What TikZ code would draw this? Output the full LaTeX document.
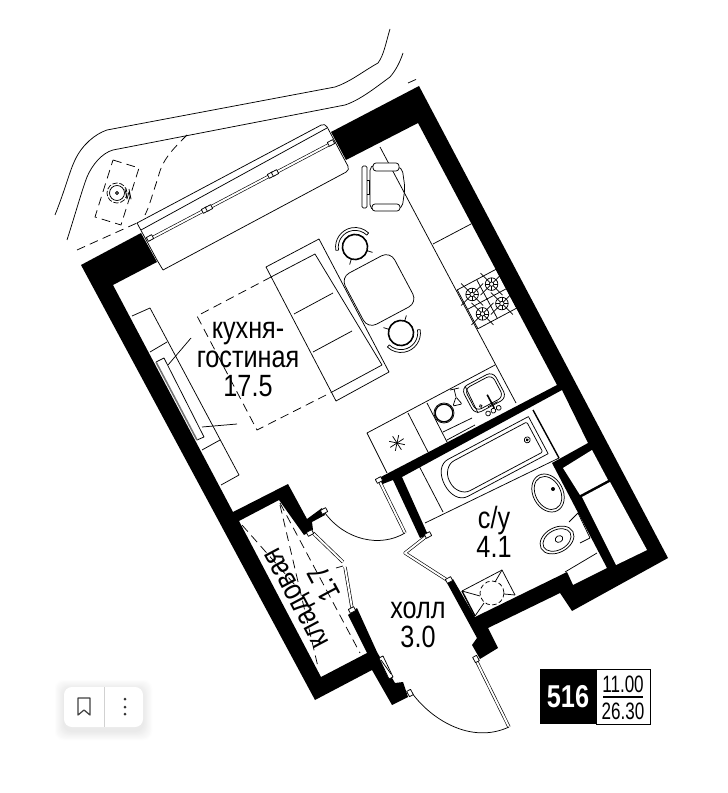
\documentclass[tikz,border=0pt]{standalone}
\usepackage{fontspec}
\setmainfont{Liberation Sans}
\newfontfamily\planfont[FakeStretch=0.82]{Liberation Sans}
\newfontfamily\badgefont[FakeStretch=0.72]{Liberation Sans}
\newfontfamily\flatfont[FakeStretch=0.8]{Liberation Sans}
\usetikzlibrary{positioning}
\tikzset{
  wall/.style={fill=black,draw=none},
  hole/.style={fill=white,draw=none},
  thin line/.style={line width=.42pt,line join=round},
  dash line/.style={line width=.42pt,dash pattern=on 5pt off 3pt},
  leaf/.style={line width=.36pt,double,double distance=1.1pt,line join=round},
  room/.style={font=\planfont\fontsize{17.5}{16.7}\selectfont,align=center,inner sep=0pt},
  jamb/.pic={\draw[thin line,fill=white] (-3,-2.2) rectangle (3,2.2);},
  stool/.pic={
    \draw[thin line] (0,0) circle[radius=13];
    \draw[line width=.7pt] (0,0) circle[radius=12.4];
    \draw[thin line] (-18.5,-6) arc[start angle=-162,end angle=-18,radius=19.5];
    \draw[thin line] (-16,-5) arc[start angle=-162,end angle=-18,radius=16.8];
    \draw[thin line] (-18.5,-6) -- (-16,-5) (18.5,-6) -- (16,-5);
    \draw[thin line] (-9,9) -- (-13,13) (9,9) -- (13,13);
  },
  burner/.pic={
    \draw[thin line] (-11,-11) -- (11,11) (-11,11) -- (11,-11);
    \draw[thin line,fill=white] (0,0) circle[radius=6.3];
    \draw[thin line] (0,0) circle[radius=2.2];
    \foreach \a in {0,45,...,315} {\draw[thin line] (\a:2.2) -- (\a:6.3);}
  }
}
\begin{document}
\begin{tikzpicture}[x=0.02cm,y=-0.02cm]
    \useasboundingbox (0,0) rectangle (727,793);
    \fill[white] (0,0) rectangle (727,793);

    \draw [thin line] (55,215) .. controls (65,190) and (70,170) .. (75,160) .. controls (82,145) and (95,134) .. (107,130) -- (335,87) .. controls (350,82) and (362,72) .. (378,63) .. controls (384,55) and (386,42) .. (390,29);
    \draw [thin line] (67,240) .. controls (75,215) and (82,190) .. (87,177) .. controls (92,165) and (102,153) .. (113,150) -- (345,105) .. controls (360,100) and (375,88) .. (390,77) .. controls (396,70) and (400,62) .. (403,53);
    \draw [dash line] (77,250) -- (137,223);
    \draw [dash line] (187,135) .. controls (172,150) and (162,160) .. (158,178) .. controls (152,195) and (150,205) .. (145,215);
    \draw [dash line] (408,83) -- (417,79);
    \draw [dash line] (113,160) -- (139,168) -- (121,225) -- (95,217) -- cycle;
    \draw [thin line] (117,193) circle[radius=1.5];
    \draw [thin line,dash pattern=on 3pt off 1pt] (117,193) circle[radius=10];
    \draw [thin line] (117,193) circle[radius=7.5];
    \draw [thin line] (125,189) -- (127,199) -- (129,192) -- (131,199) -- (129,189);

    \draw [thin line] (163,270) [rounded corners=2.5pt] -- (350,170) -- (325,123) [sharp corners] -- (137,223) -- (157,260) [rounded corners=2.5pt] -- (163,270);
    \draw [thin line] (141,230) -- (327,128);
    \draw [leaf] (148,240) -- (332,143);
    \pic [rotate=28] at (150,238) {jamb};
    \pic [rotate=28] at (205,210) {jamb};
    \pic [rotate=28] at (209,208) {jamb};
    \pic [rotate=28] at (271,175) {jamb};
    \pic [rotate=28] at (275,173) {jamb};
    \pic [rotate=28] at (331,143) {jamb};

    \draw [thin line] (380,147) -- (516,403);
    \draw [thin line] (433,244) -- (471,224);
    \draw [thin line] (495,365) -- (367,433) -- (387,473);
    \draw [thin line] (408,413) -- (428,452);
    \draw [thin line] (427,403) -- (447,442);
    \draw [thin line] (465,386) -- (478,413);
    \draw [thin line] (443,432) -- (472,418) (447,440) -- (475,425);
    \foreach \a in {0,45,...,315} {\draw [thin line] (397,443) -- ++(\a+12:8);}

    \begin{scope}[shift={(487,299)},rotate=28]
        \draw [thin line] (-22,-22) rectangle (22,22);
        \draw [thin line] (-22,0) -- (22,0) (0,-22) -- (0,22);
        \pic at (-11,-11) {burner};
        \pic at (11,-11) {burner};
        \pic at (-11,11) {burner};
        \pic at (11,11) {burner};
    \end{scope}

    \begin{scope}[shift={(484,393)},rotate=28]
        \draw [thin line,rounded corners=4pt] (-18,-15) rectangle (18,15);
        \draw [thin line,rounded corners=3.4pt] (-15.5,-12.5) rectangle (15.5,12.5);
        \draw [line width=.9pt] (2,3) -- (2,18);
        \draw [thin line] (-3,14) -- (8,14);
        \draw [thin line] (-6,20) circle[radius=2.4] (0,20) circle[radius=2.4] (6,20) circle[radius=2.4];
        \draw [thin line] (-9,10) circle[radius=1.4];
    \end{scope}
    \draw [thin line] (444,413) circle[radius=10];
    \draw [line width=.7pt] (444,413) circle[radius=8.8];
    \draw [thin line] (450,390) -- (459,388) (454,389) -- (456,397);
    \draw [thin line,rounded corners=.6pt] (456,397) -- (462,404) -- (453,406) -- cycle;

    \pic [rotate=28] at (355,247) {stool};
    \pic [rotate=208] at (401,333) {stool};
    \draw [thin line,rounded corners=5.5pt,fill=white,rotate around={28:(379,290)}] (351,261) rectangle (407,319);

    \draw [thin line,rounded corners=.8pt] (362,166) rectangle (367,208);
    \draw [thin line] (367,180) -- (369,180) -- (369,194) -- (367,194);
    \draw [thin line,rounded corners=3pt] (370,165) -- (402,167) -- (405,188) -- (402,209) -- (370,210) -- cycle;
    \draw [thin line,rounded corners=1.7pt,fill=white] (373,163) rectangle (399,171);
    \draw [thin line,rounded corners=1.7pt,fill=white] (372,204) rectangle (400,211);

    \draw [thin line] (266,267) -- (319,239) -- (389,372) -- (336,401) -- cycle;
    \draw [thin line] (271,277) -- (315,254) -- (382,365) -- (332,392);
    \draw [thin line] (294,314) -- (333,293) (313,352) -- (352,331);
    \draw [dash line] (271,277) -- (197,316) -- (257,430) -- (332,392);

    \draw [thin line] (132,316) -- (150,308) -- (239,475) -- (221,485);
    \draw [thin line] (150,352) -- (167,342) (202,450) -- (220,440);
    \draw [thin line] (156,362) -- (164,358) -- (204,437) -- (197,440);
    \draw [line width=.9pt,black!55] (156,362) -- (197,440);
    \draw [thin line] (168,365) -- (191,338) (202,427) -- (237,424);

    \draw [wall] (81,265) -- (141,233) -- (157,262) -- (113,285) -- (233,512) -- (288,484) -- (307,519) -- (322,508) -- (325,515) -- (312,522) -- (313,530) -- (304,535) -- (279,500) -- (239,521) -- (321,677) -- (367,653) -- (348,615) -- (357,608) -- (377,652) -- (395,683) -- (403,682) -- (408,697) -- (392,705) -- (372,670) -- (315,700) -- cycle;
    \draw [wall] (331,132) -- (419,86) -- (668,558) -- (572,611) -- (560,593) -- (488,628) -- (498,648) -- (480,659) -- (472,645) -- (477,638) -- (447,583) -- (453,579) -- (475,617) -- (567,572) -- (573,585) -- (607,568) -- (552,463) -- (588,443) -- (562,390) -- (402,477) -- (428,535) -- (420,538) -- (393,480) -- (380,485) -- (377,479) -- (557,385) -- (418,123) -- (346,160) -- cycle;
    \draw [hole] (563,468) -- (592,450) -- (608,480) -- (580,495) -- cycle;
    \draw [hole] (582,497) -- (610,482) -- (647,550) -- (616,565) -- cycle;
    \draw [thin line,fill=white] (379,658) -- (383,656) -- (393,677) -- (389,679) -- cycle;
    \draw [thin line] (381,660) -- (391,674);

    \draw [line width=.8pt] (533,410) -- (559,458);
    \draw [thin line] (559,458) -- (425,523);
    \draw [thin line] (417,462) -- (443,512);
    \begin{scope}[shift={(491.5,460)},rotate=28]
        \draw [thin line] (53,-21) -- (53,21) -- (-38,21) .. controls (-47,21) and (-53,12) .. (-53,0) .. controls (-53,-12) and (-47,-21) .. (-38,-21) -- cycle;
        \draw [thin line,rounded corners=.8pt] (49,-17) -- (49,17) -- (-32,17) .. controls (-41,17) and (-47,9) .. (-47,0) .. controls (-47,-9) and (-41,-17) .. (-32,-17) -- cycle;
        \draw [thin line] (41,-1) circle[radius=3];
        \fill (41,-1) circle[radius=1.6];
    \end{scope}
    \draw [thin line,rotate around={28:(548,493)}] (548,493) ellipse[x radius=15,y radius=20];
    \draw [thin line,rotate around={28:(548,493)}] (548,493) ellipse[x radius=12.5,y radius=17.5];
    \fill (553,489) circle[radius=2];

    \draw [thin line] (569,522) -- (578,513) -- (590,538) -- (580,543);
    \draw [thin line,rotate around={28:(557,540)}] (557,540) ellipse[x radius=18,y radius=12.5];
    \draw [thin line,rotate around={28:(557,540)}] (557,540) ellipse[x radius=15,y radius=10];
    \draw [thin line,rotate around={28:(559,539)}] (559,539) ellipse[x radius=4,y radius=3.2];
    \draw [thin line] (565,572) -- (597,553);

    \draw [thin line] (462,591) -- (502,570) -- (515,595);
    \draw [line width=.8pt] (462,591) -- (475,616);
    \draw [dash line,dash pattern=on 2.5pt off 1.5pt] (492,593) circle[radius=12];
    \draw [thin line] (462,591) -- (480,596) (502,570) -- (495,582) (515,595) -- (504,594) (475,616) -- (484,603);

    \draw [leaf] (313,533) -- (343,562);
    \draw [thin line] (336,568) -- (343,566);
    \draw [leaf] (345,567) -- (352,608);
    \draw [leaf] (380,482) -- (405,533);
    \draw [leaf] (428,535) -- (405,553) -- (447,580);
    \draw [leaf] (476,660) -- (509,727);
    \draw [thin line] (325,513) .. controls (345,540) and (380,548) .. (405,533);
    \draw [thin line] (412,693) .. controls (430,718) and (470,745) .. (509,727);
    \pic [rotate=28] at (379,480) {jamb};
    \pic [rotate=28] at (324,511) {jamb};
    \pic [rotate=28] at (310,533) {jamb};
    \pic [rotate=28] at (352,610) {jamb};
    \pic [rotate=28] at (428,535) {jamb};
    \pic [rotate=28] at (449,580) {jamb};
    \pic [rotate=118] at (476,659) {jamb};
    \pic [rotate=118] at (410,693) {jamb};

    \draw [dash line] (280,505) -- (318,667);
    \draw [dash line] (280,503) -- (360,653);
    \draw [dash line] (242,525) -- (295,585);

    \node[room] (kitchen) at (248,359.5) {кухня-\\гостиная\\17.5};
    \node[room] (bath) at (494,532) {с/у\\4.1};
    \node[room] (hall) at (418,625) {холл\\3.0};
    \node[room,rotate=118] (storetext) at (299,597) {кладовая};
    \node[room,rotate=118] (storearea) at (324,584) {1.7};

    \draw [line width=.5pt,fill=white] (596,669) rectangle (650,724);
    \fill (540,669) rectangle (596,724);
    \node[font=\flatfont\bfseries\fontsize{18}{18}\selectfont,text=white,inner sep=0pt] (flat) at (568,697) {516};
    \node[font=\badgefont\fontsize{13.5}{14}\selectfont,inner sep=0pt] (floor) at (623,684) {11.00};
    \node[font=\badgefont\fontsize{13.5}{14}\selectfont,inner sep=0pt] (area) at (623,711) {26.30};
    \draw [line width=.6pt] (603,697) -- (643,697);

    \foreach \i in {9,8,...,1} {
        \pgfmathsetmacro{\s}{(10-\i)*.9}
        \fill[black!\s,rounded corners=5pt] (64-\i,689-\i) rectangle (143+\i,731+\i);
    }
    \fill[white,rounded corners=4.5pt] (64,687) rectangle (143,727);
    \draw [line width=.4pt,black!18] (104,687) -- (104,727);
    \draw [line width=.7pt,black!75,line join=round] (78,698) -- (90,698) -- (90,715) -- (84,710) -- (78,715) -- cycle;
    \foreach \y in {699,707,714} {\fill[black!80] (125,\y) circle[radius=1.5];}
\end{tikzpicture}
\end{document}
